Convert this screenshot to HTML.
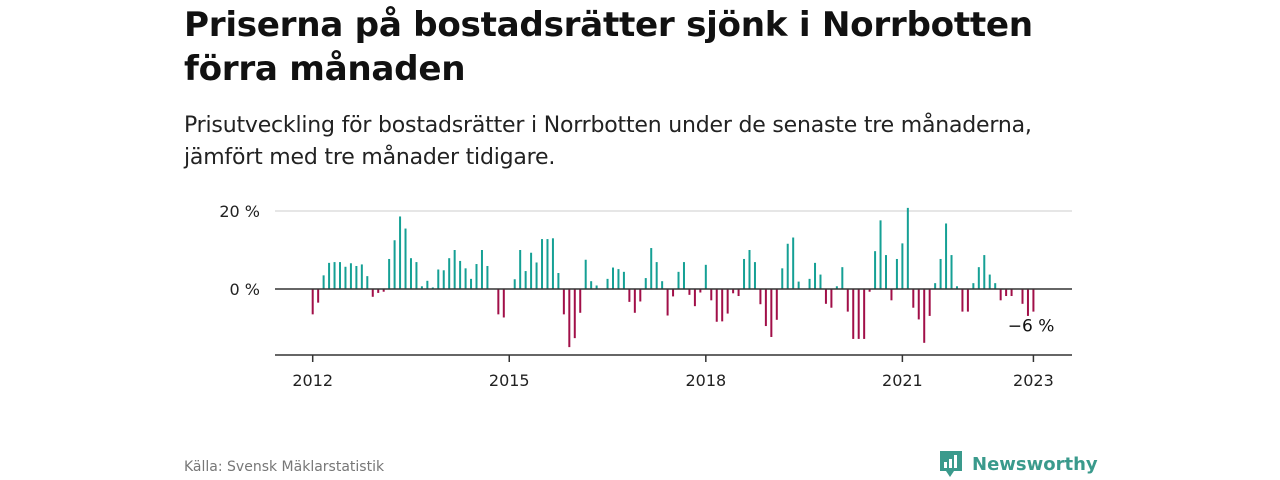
<!DOCTYPE html>
<html><head><meta charset="utf-8"><style>
body{margin:0;background:#fff;font-family:"DejaVu Sans","Liberation Sans",sans-serif;}
#wrap{position:relative;width:1280px;height:480px;overflow:hidden;}
h1{position:absolute;left:184px;top:3px;margin:0;font-size:34.2px;line-height:44px;font-weight:bold;color:#111;letter-spacing:-0.3px;}
.sub{position:absolute;left:184px;top:110px;font-size:22px;line-height:32px;color:#222;letter-spacing:-0.2px;}
.src{position:absolute;left:184px;top:459px;font-size:14px;color:#777;}
.logo{position:absolute;left:938px;top:449px;display:flex;align-items:center;color:#3a9a8c;font-size:18px;font-weight:bold;}
</style></head><body><div id="wrap">
<h1>Priserna på bostadsrätter sjönk i Norrbotten<br>förra månaden</h1>
<div class="sub">Prisutveckling för bostadsrätter i Norrbotten under de senaste tre månaderna,<br>jämfört med tre månader tidigare.</div>
<svg id="chart" width="1280" height="480" style="position:absolute;left:0;top:0"></svg>
<div class="src">Källa: Svensk Mäklarstatistik</div>
<div class="logo"><svg width="26" height="30" viewBox="0 0 26 30" style="margin-right:8px"><path d="M2 2h22v20H16l-4 6-4-6H2z" fill="#3a9a8c"/><rect x="6" y="13" width="3" height="6" fill="#fff"/><rect x="11" y="10" width="3" height="9" fill="#fff"/><rect x="16" y="6" width="3" height="13" fill="#fff"/></svg>Newsworthy</div>
</div>
<script>
const startYear = 2012;
const values = [-6.5,-3.5,3.5,6.7,6.9,6.9,5.7,6.6,5.9,6.3,3.3,-2,-1,-0.7,7.7,12.5,18.6,15.5,7.9,6.9,0.7,2.1,0.4,5,4.8,7.9,10,7.2,5.3,2.6,6.4,10,5.9,0,-6.5,-7.3,0,2.5,10,4.6,9.3,6.8,12.8,12.8,13,4.1,-6.5,-14.9,-12.6,-6.1,7.5,2,0.9,0,2.6,5.5,5.1,4.4,-3.3,-6.1,-3.2,2.8,10.5,6.9,2,-6.8,-1.9,4.4,6.9,-1.5,-4.4,-0.9,6.2,-2.9,-8.4,-8.3,-6.3,-1.1,-1.8,7.7,10,6.9,-3.9,-9.5,-12.3,-7.9,5.3,11.6,13.2,1.9,0,2.6,6.7,3.7,-3.8,-4.8,0.7,5.6,-5.8,-12.8,-12.8,-12.8,-0.7,9.7,17.6,8.7,-2.9,7.7,11.7,20.8,-4.8,-7.8,-13.8,-6.9,1.5,7.7,16.8,8.7,0.7,-5.8,-5.8,1.5,5.6,8.7,3.7,1.5,-2.9,-1.8,-1.8,0,-3.8,-6.9,-5.8];
const yTicks = [0, 20];
const yTickLabels = ["0 %", "20 %"];
const xTicks = [2012, 2015, 2018, 2021, 2023];
const lastLabel = "−6 %";
const NS="http://www.w3.org/2000/svg", svg=document.getElementById('chart');
const x = m => 312.7 + m*5.46;
const y = v => 289 - v*3.9;
function mk(t,a){const e=document.createElementNS(NS,t);for(const k in a)e.setAttribute(k,a[k]);svg.appendChild(e);return e;}
yTicks.forEach((t,i)=>{
  if(t!==0){const g=mk('line',{x1:275,x2:1072,y1:y(t),y2:y(t),stroke:'#ddd','stroke-width':1.5});
  
  }
  const l=mk('text',{x:260,y:y(t)+6,'text-anchor':'end','font-size':16,fill:'#222','font-family':'DejaVu Sans, sans-serif'});
  l.textContent=yTickLabels[i];
  
  
});
values.forEach((v,i)=>{
  const r=mk('rect',{x:x(i)-1,y:Math.min(y(v),y(0)),width:2,height:Math.abs(y(v)-y(0)),fill:v>=0?'#15a095':'#a10f48'});
  
  
});
const z=mk('line',{x1:275,x2:1072,y1:y(0),y2:y(0),stroke:'#333','stroke-width':1.5});


const ax=mk('line',{x1:275,x2:1072,y1:355,y2:355,stroke:'#333','stroke-width':1.5});


xTicks.forEach(yr=>{
  const px=x((yr-startYear)*12);
  const tk=mk('line',{x1:px,x2:px,y1:355,y2:362,stroke:'#333','stroke-width':1.5});
  
  
  const t=mk('text',{x:px,y:386,'text-anchor':'middle','font-size':16,fill:'#222','font-family':'DejaVu Sans, sans-serif'});
  t.textContent=yr;
  
  
});
const ll=mk('text',{x:x(values.length-1)+21,y:y(values[values.length-1])+20,'text-anchor':'end','font-size':17,fill:'#111','font-family':'DejaVu Sans, sans-serif'});
ll.textContent=lastLabel;


</script></body></html>
